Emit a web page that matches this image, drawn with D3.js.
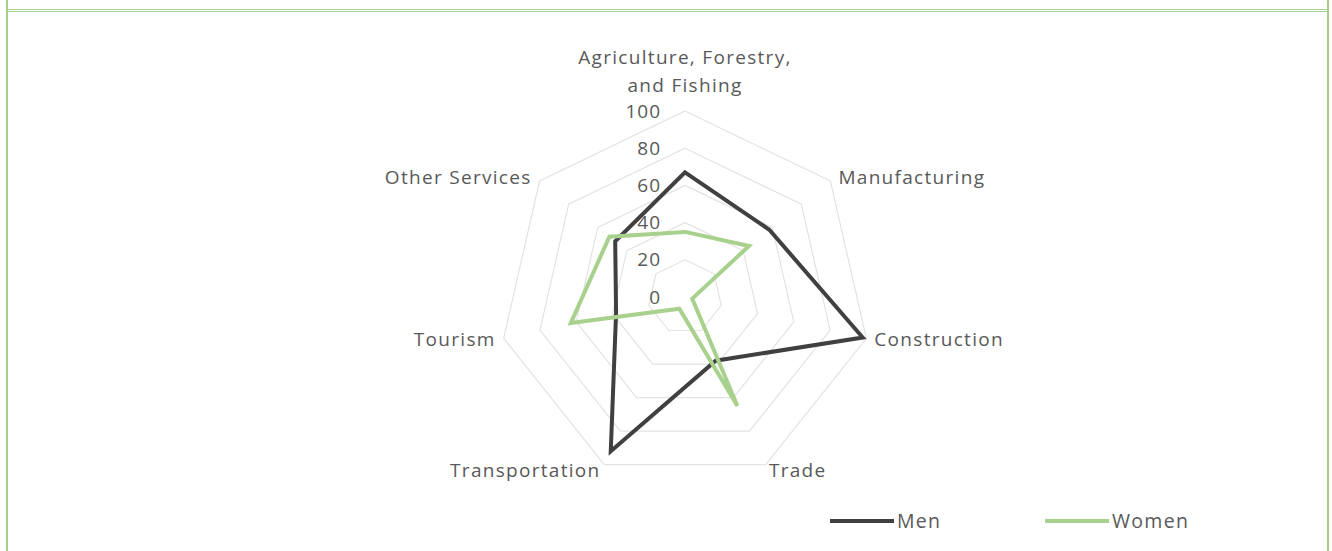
<!DOCTYPE html>
<html>
<head>
<meta charset="utf-8">
<script src="https://cdn.jsdelivr.net/npm/d3@7/dist/d3.min.js"></script>
<style>
  html, body { margin: 0; padding: 0; background: #fff; }
  #chart { width: 1332px; height: 551px; }
  text { font-family: "Open Sans", sans-serif; fill: #595959; letter-spacing: 1.3px; }
</style>
</head>
<body>
<div id="chart"></div>
<script>
// ---------- data ----------
var categories = [
    ["Agriculture, Forestry,", "and Fishing"],
    ["Manufacturing"],
    ["Construction"],
    ["Trade"],
    ["Transportation"],
    ["Tourism"],
    ["Other Services"]
];
var menValues = [67, 58, 98, 38, 92, 38, 48];
var womenValues = [35, 44, 4, 65, 7, 63, 52];
var tickValues = [0, 20, 40, 60, 80, 100];
var seriesNames = ["Men", "Women"];

// ---------- layout ----------
var W = 1332, H = 551;
var cx = 685, cy = 297, R = 186;
var colors = { Men: "#404040", Women: "#a9d18e" };

var svg = d3.select("#chart").append("svg")
    .attr("width", W).attr("height", H);

// frame (table-cell look)
var frame = svg.append("g").attr("stroke", "#a8d08d").attr("fill", "none");
frame.append("line").attr("x1", 7).attr("x2", 7).attr("y1", 0).attr("y2", H).attr("stroke-width", 2);
frame.append("line").attr("x1", 1328).attr("x2", 1328).attr("y1", 0).attr("y2", H).attr("stroke-width", 2);
frame.append("line").attr("x1", 7).attr("x2", 1328).attr("y1", 9.5).attr("y2", 9.5).attr("stroke-width", 1);
frame.append("line").attr("x1", 7).attr("x2", 1328).attr("y1", 11.5).attr("y2", 11.5).attr("stroke-width", 1);

var n = categories.length;
var angle = d3.scaleLinear().domain([0, n]).range([0, 2 * Math.PI]);
var r = d3.scaleLinear().domain([0, 100]).range([0, R]);

function pt(i, v) {
    var a = angle(i);
    return [cx + r(v) * Math.sin(a), cy - r(v) * Math.cos(a)];
}

var g = svg.append("g");

// grid heptagons
tickValues.filter(function (t) { return t > 0; }).forEach(function (t) {
    var pts = d3.range(n).map(function (i) { return pt(i, t); });
    g.append("path")
        .attr("d", d3.line().curve(d3.curveLinearClosed)(pts))
        .attr("fill", "none")
        .attr("stroke", "#e3e3e3")
        .attr("stroke-width", 1.2);
});

// series
var lineGen = d3.line().curve(d3.curveLinearClosed);
[["Men", menValues], ["Women", womenValues]].forEach(function (s) {
    var pts = s[1].map(function (v, i) { return pt(i, v); });
    g.append("path")
        .attr("d", lineGen(pts))
        .attr("fill", "none")
        .attr("stroke", colors[s[0]])
        .attr("stroke-width", 4)
        .attr("stroke-linejoin", "miter");
});

// tick labels along the first axis (right aligned, like excel)
g.selectAll(".tick-label")
    .data(tickValues)
    .join("text")
    .attr("class", "tick-label")
    .attr("x", cx - 24)
    .attr("y", function (d) { return cy - r(d); })
    .attr("dy", "0.35em")
    .attr("text-anchor", "end")
    .attr("font-size", 19)
    .style("letter-spacing", "1px")
    .text(function (d) { return d; });

// category labels
categories.forEach(function (lines, i) {
    var a = angle(i);
    var s = Math.sin(a), c = Math.cos(a);
    var p = pt(i, 100);
    var anchor = Math.abs(s) < 0.1 ? "middle" : (s > 0 ? "start" : "end");
    var x = p[0] + (Math.abs(s) < 0.1 ? 0 : (s > 0 ? 8 : -8));
    if (i === 3 || i === 4) { anchor = "middle"; x = p[0] + (s > 0 ? 32 : -79); }
    var y = p[1] - 6 * c;
    var t = g.append("text")
        .attr("text-anchor", anchor)
        .attr("font-size", 19);
    if (lines.length > 1) {
        lines.forEach(function (l, k) {
            t.append("tspan").attr("x", x)
                .attr("y", p[1] - 26 - (lines.length - 1 - k) * 28)
                .attr("dy", "0.35em").text(l);
        });
    } else {
        t.attr("x", x).attr("y", y).attr("dy", "0.35em").text(lines[0]);
    }
});

// legend
var legend = svg.append("g").attr("transform", "translate(830,521)");
seriesNames.forEach(function (name, k) {
    var lg = legend.append("g").attr("transform", "translate(" + (k * 215) + ",0)");
    lg.append("line").attr("x1", 0).attr("x2", 64).attr("y1", 0).attr("y2", 0)
        .attr("stroke", colors[name]).attr("stroke-width", 4);
    lg.append("text").attr("x", 67).attr("dy", "0.35em")
        .attr("font-size", 19.5).text(name);
});
</script>
</body>
</html>
